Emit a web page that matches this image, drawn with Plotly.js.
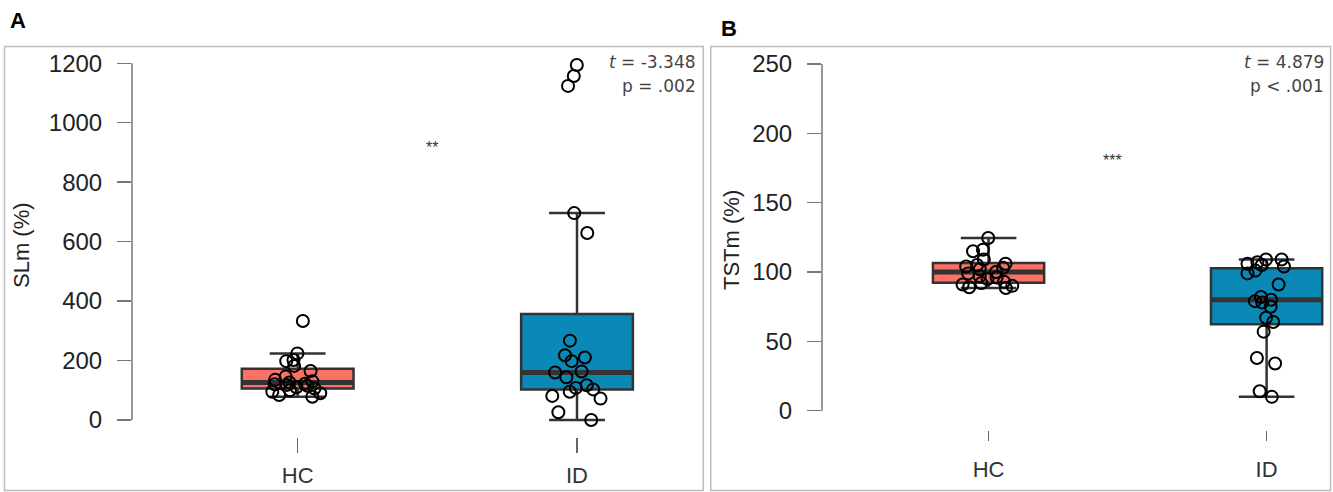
<!DOCTYPE html>
<html>
<head>
<meta charset="utf-8">
<script src="https://cdn.plot.ly/plotly-3.0.1.min.js"></script>
<style>html,body{margin:0;padding:0;background:#fff;}#chart{width:1333px;height:492px;}</style>
</head>
<body>
<div id="chart"></div>
<script>
// ---- data ----
const categories = ['HC', 'ID'];

// Panel A: SLm (%)
const slmHC = [333, 224, 202, 198, 182, 165, 146, 135, 130, 126, 122, 120, 118, 115, 110, 106, 100, 95, 90, 84, 78];
const slmID = [1194, 1157, 1124, 696, 629, 267, 218, 210, 198, 163, 160, 144, 117, 108, 103, 95, 81, 72, 26, 0];
const slmQ1 = [106, 103];
const slmMedian = [126, 160];
const slmQ3 = [172, 357];
const slmLower = [78, 0];
const slmUpper = [224, 696];
const slmTicks = [0, 200, 400, 600, 800, 1000, 1200];

// Panel B: TSTm (%)
const tstHC = [124.5, 116, 115, 109, 106, 105, 104, 103, 102, 100, 99, 97, 96, 95, 93, 92, 91, 90, 89, 88.5];
const tstID = [109, 109, 107, 106, 105, 104, 101, 99, 91, 82, 80, 79, 78, 75, 67, 64, 57, 38, 34, 14, 10];
const tstQ1 = [92.3, 62.3];
const tstMedian = [100, 80];
const tstQ3 = [106.5, 102.7];
const tstLower = [88.5, 10];
const tstUpper = [124.5, 109];
const tstTicks = [0, 50, 100, 150, 200, 250];

const statsA = {t: '<i>t</i> = -3.348', p: 'p = .002', sig: '**'};
const statsB = {t: '<i>t</i> = 4.879', p: 'p < .001', sig: '***'};

// ---- styling ----
const W = 1333, H = 492;
const FONT = 'Liberation Sans, Arial, sans-serif';
const colors = ['#fb7163', '#0a89b7'];
const boxLine = '#333333';
const px = v => v / W;
const py = v => 1 - v / H;

function panelTraces(hc, id, q1, med, q3, lo, hi, xa, ya) {
  const tr = [];
  const groups = [hc, id];
  for (let i = 0; i < 2; i++) {
    tr.push({
      type: 'box', x: [categories[i]], q1: [q1[i]], median: [med[i]], q3: [q3[i]],
      lowerfence: [lo[i]], upperfence: [hi[i]], width: 0.4, whiskerwidth: 0.5,
      fillcolor: colors[i], line: {color: boxLine, width: 2.5},
      boxpoints: false, xaxis: xa, yaxis: ya, showlegend: false, hoverinfo: 'skip'
    });
    // thicker median line
    tr.push({
      type: 'box', x: [categories[i]], q1: [med[i]], median: [med[i]], q3: [med[i]],
      lowerfence: [med[i]], upperfence: [med[i]], width: 0.4, whiskerwidth: 0,
      fillcolor: 'rgba(0,0,0,0)', line: {color: boxLine, width: 5},
      boxpoints: false, xaxis: xa, yaxis: ya, showlegend: false, hoverinfo: 'skip'
    });
  }
  for (let i = 0; i < 2; i++) {
    tr.push({
      type: 'box', y: groups[i], x: groups[i].map(() => categories[i]), width: 0.4,
      boxpoints: 'all', jitter: 0.6, pointpos: 0, whiskerwidth: 0,
      fillcolor: 'rgba(0,0,0,0)', line: {color: 'rgba(0,0,0,0)', width: 0},
      marker: {symbol: 'circle-open', size: 12, color: '#000', line: {width: 2, color: '#000'}},
      xaxis: xa, yaxis: ya, showlegend: false, hoverinfo: 'skip'
    });
  }
  return tr;
}

const data = [].concat(
  panelTraces(slmHC, slmID, slmQ1, slmMedian, slmQ3, slmLower, slmUpper, 'x', 'y'),
  panelTraces(tstHC, tstID, tstQ1, tstMedian, tstQ3, tstLower, tstUpper, 'x2', 'y2')
);

function xAxis(domain, range, ticklen, anchor, standoff) {
  return {
    domain: domain, anchor: anchor, type: 'category', categoryarray: categories, range: range,
    showgrid: false, zeroline: false, showline: false,
    ticks: 'outside', ticklen: ticklen, tickwidth: 1.2, tickcolor: '#666',
    tickfont: {family: FONT, size: 22, color: '#333'}, ticklabelstandoff: standoff, fixedrange: true
  };
}
function yAxis(domain, range, ticks, anchor) {
  return {
    domain: domain, anchor: anchor, range: range, tickvals: ticks, ticktext: ticks.map(String),
    showgrid: false, zeroline: false, showline: false,
    ticks: 'outside', ticklen: 14, tickwidth: 1.5, tickcolor: '#777',
    tickfont: {family: FONT, size: 24, color: '#222'}, ticklabelstandoff: 10, fixedrange: true
  };
}

function ann(text, x, y, opts) {
  return Object.assign({text: text, xref: 'paper', yref: 'paper', x: px(x), y: py(y),
    xanchor: 'center', yanchor: 'middle', showarrow: false}, opts);
}

const layout = {
  width: W, height: H, margin: {l: 0, r: 0, t: 0, b: 0},
  paper_bgcolor: '#fff', plot_bgcolor: 'rgba(0,0,0,0)', boxmode: 'overlay', showlegend: false,
  xaxis: xAxis([px(132), px(703)], [-0.593, 1.451], 15, 'y', 4),
  yaxis: yAxis([py(437), py(47)], [-57.2, 1254.8], slmTicks, 'x'),
  xaxis2: xAxis([px(822), px(1330)], [-0.599, 1.228], 10, 'y2', 10),
  yaxis2: yAxis([py(430), py(47)], [-13.9, 262.2], tstTicks, 'x2'),
  shapes: [
    {type: 'rect', xref: 'paper', yref: 'paper', x0: px(4.5), x1: px(703.3), y0: py(490.5), y1: py(46.5),
     line: {color: '#bdbdbd', width: 1.5}, layer: 'below'},
    {type: 'rect', xref: 'paper', yref: 'paper', x0: px(710.7), x1: px(1330.6), y0: py(490.5), y1: py(46.5),
     line: {color: '#bdbdbd', width: 1.5}, layer: 'below'},
    {type: 'line', xref: 'x domain', yref: 'y', x0: 0, x1: 0, y0: slmTicks[0], y1: slmTicks[slmTicks.length - 1],
     line: {color: '#777', width: 1.5}},
    {type: 'line', xref: 'x2 domain', yref: 'y2', x0: 0, x1: 0, y0: tstTicks[0], y1: tstTicks[tstTicks.length - 1],
     line: {color: '#777', width: 1.5}}
  ],
  annotations: [
    ann('<b>A</b>', 18, 20.5, {font: {family: FONT, size: 22, color: '#000'}}),
    ann('<b>B</b>', 729, 28.5, {font: {family: FONT, size: 22, color: '#000'}}),
    ann('SLm (%)', 21, 245, {textangle: -90, font: {family: FONT, size: 22, color: '#222'}}),
    ann('TSTm (%)', 731, 240, {textangle: -90, font: {family: FONT, size: 22, color: '#222'}}),
    ann(statsA.t, 698, 62, {xanchor: 'right', font: {family: 'DejaVu Sans, sans-serif', size: 17, color: '#444'}}),
    ann(statsA.p, 698, 86, {xanchor: 'right', font: {family: 'DejaVu Sans, sans-serif', size: 17, color: '#444'}}),
    ann(statsB.t, 1326, 62, {xanchor: 'right', font: {family: 'DejaVu Sans, sans-serif', size: 17, color: '#444'}}),
    ann(statsB.p, 1326, 86, {xanchor: 'right', font: {family: 'DejaVu Sans, sans-serif', size: 17, color: '#444'}}),
    ann(statsA.sig, 432, 147, {font: {family: FONT, size: 16, color: '#333'}}),
    ann(statsB.sig, 1112, 160, {font: {family: FONT, size: 16, color: '#333'}})
  ]
};

Plotly.newPlot('chart', data, layout, {displayModeBar: false, staticPlot: true});
</script>
</body>
</html>
